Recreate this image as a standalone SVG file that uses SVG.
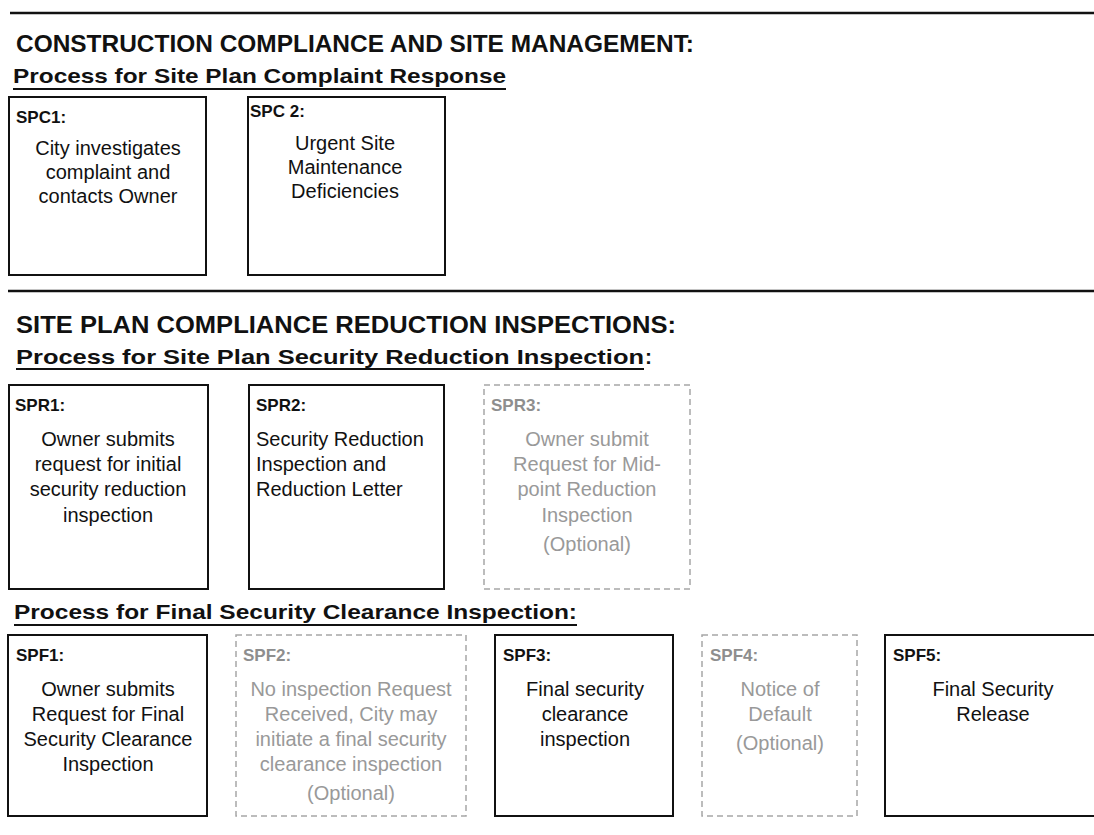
<svg xmlns="http://www.w3.org/2000/svg" width="1094" height="835" viewBox="0 0 1094 835">
<style>
text{font-family:"Liberation Sans",Arial,sans-serif;fill:#111}
.h{font-weight:bold;font-size:23px}
.s{font-weight:bold;font-size:21px}
.lb{font-weight:bold;font-size:17px}
.b{font-size:20px}
.c{text-anchor:middle}
.g{fill:#999}
.gl{fill:#8e8e8e}
.box{fill:#fff;stroke:#111;stroke-width:2}
.dbox{fill:#fff;stroke:#a6a6a6;stroke-width:1.5;stroke-dasharray:6 4}
.rule{stroke:#111;stroke-width:2.5}
.ul{stroke:#111;stroke-width:2}
</style>
<rect width="1094" height="835" fill="#fff"/>

<g id="section1">
<line class="rule" x1="10" y1="13" x2="1094" y2="13"/>
<text class="h" x="16" y="52" textLength="678" lengthAdjust="spacingAndGlyphs">CONSTRUCTION COMPLIANCE AND SITE MANAGEMENT:</text>
<text class="s" x="13" y="83" textLength="493" lengthAdjust="spacingAndGlyphs">Process for Site Plan Complaint Response</text>
<line class="ul" x1="13" y1="89" x2="506" y2="89"/>
</g>

<g id="SPC1">
<rect class="box" x="9" y="97" width="197" height="178"/>
<text class="lb" x="16" y="123">SPC1:</text>
<text class="b c" x="108" y="155">City investigates</text>
<text class="b c" x="108" y="179">complaint and</text>
<text class="b c" x="108" y="203">contacts Owner</text>
</g>

<g id="SPC2">
<rect class="box" x="248" y="97" width="197" height="178"/>
<text class="lb" x="250" y="117">SPC 2:</text>
<text class="b c" x="345" y="150">Urgent Site</text>
<text class="b c" x="345" y="174">Maintenance</text>
<text class="b c" x="345" y="198">Deficiencies</text>
</g>

<g id="section2">
<line class="rule" x1="8" y1="291" x2="1094" y2="291"/>
<text class="h" x="16" y="333" textLength="660" lengthAdjust="spacingAndGlyphs">SITE PLAN COMPLIANCE REDUCTION INSPECTIONS:</text>
<text class="s" x="16" y="364" textLength="628" lengthAdjust="spacingAndGlyphs">Process for Site Plan Security Reduction Inspection</text>
<text class="s" x="645" y="364">:</text>
<line class="ul" x1="16" y1="369" x2="644" y2="369"/>
</g>

<g id="SPR1">
<rect class="box" x="9" y="385" width="199" height="204"/>
<text class="lb" x="15" y="411">SPR1:</text>
<text class="b c" x="108" y="446">Owner submits</text>
<text class="b c" x="108" y="471">request for initial</text>
<text class="b c" x="108" y="496">security reduction</text>
<text class="b c" x="108" y="522">inspection</text>
</g>

<g id="SPR2">
<rect class="box" x="249" y="385" width="195" height="204"/>
<text class="lb" x="256" y="411">SPR2:</text>
<text class="b" x="256" y="446">Security Reduction</text>
<text class="b" x="256" y="471">Inspection and</text>
<text class="b" x="256" y="496">Reduction Letter</text>
</g>

<g id="SPR3">
<rect class="dbox" x="484" y="385" width="206" height="204"/>
<text class="lb gl" x="491" y="411">SPR3:</text>
<text class="b c g" x="587" y="446">Owner submit</text>
<text class="b c g" x="587" y="471">Request for Mid-</text>
<text class="b c g" x="587" y="496">point Reduction</text>
<text class="b c g" x="587" y="522">Inspection</text>
<text class="b c g" x="587" y="551">(Optional)</text>
</g>

<g id="section3">
<text class="s" x="14" y="619" textLength="563" lengthAdjust="spacingAndGlyphs">Process for Final Security Clearance Inspection:</text>
<line class="ul" x1="14" y1="625" x2="577" y2="625"/>
</g>

<g id="SPF1">
<rect class="box" x="8" y="635" width="199" height="181"/>
<text class="lb" x="16" y="661">SPF1:</text>
<text class="b c" x="108" y="696">Owner submits</text>
<text class="b c" x="108" y="721">Request for Final</text>
<text class="b c" x="108" y="746">Security Clearance</text>
<text class="b c" x="108" y="771">Inspection</text>
</g>

<g id="SPF2">
<rect class="dbox" x="236" y="635" width="230" height="181"/>
<text class="lb gl" x="243" y="661">SPF2:</text>
<text class="b c g" x="351" y="696">No inspection Request</text>
<text class="b c g" x="351" y="721">Received, City may</text>
<text class="b c g" x="351" y="746">initiate a final security</text>
<text class="b c g" x="351" y="771">clearance inspection</text>
<text class="b c g" x="351" y="800">(Optional)</text>
</g>

<g id="SPF3">
<rect class="box" x="495" y="635" width="178" height="181"/>
<text class="lb" x="503" y="661">SPF3:</text>
<text class="b c" x="585" y="696">Final security</text>
<text class="b c" x="585" y="721">clearance</text>
<text class="b c" x="585" y="746">inspection</text>
</g>

<g id="SPF4">
<rect class="dbox" x="702" y="635" width="155" height="181"/>
<text class="lb gl" x="710" y="661">SPF4:</text>
<text class="b c g" x="780" y="696">Notice of</text>
<text class="b c g" x="780" y="721">Default</text>
<text class="b c g" x="780" y="750">(Optional)</text>
</g>

<g id="SPF5">
<rect class="box" x="885" y="635" width="215" height="181"/>
<text class="lb" x="893" y="661">SPF5:</text>
<text class="b c" x="993" y="696">Final Security</text>
<text class="b c" x="993" y="721">Release</text>
</g>

<g id="connectors"></g>
</svg>
